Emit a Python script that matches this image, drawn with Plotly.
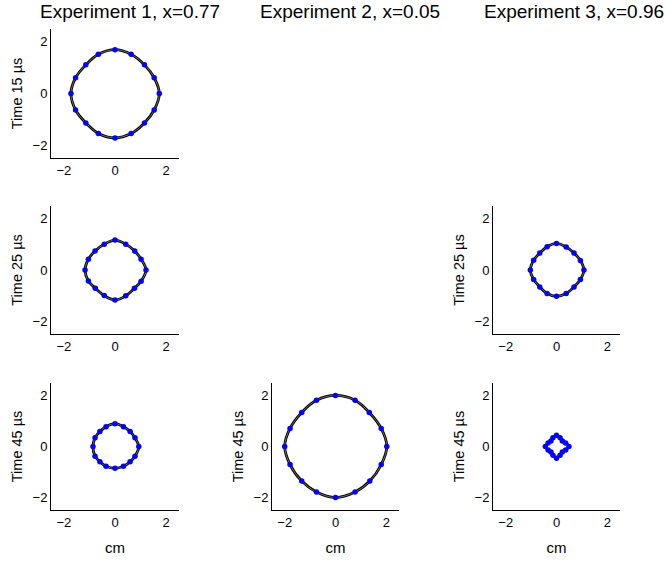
import plotly.graph_objects as go

# ---- data (cm) ----
exp_titles = ["Experiment 1, x=0.77", "Experiment 2, x=0.05", "Experiment 3, x=0.96"]
time_labels = ["Time 15 \u00b5s", "Time 25 \u00b5s", "Time 45 \u00b5s"]
tick_vals = [-2, 0, 2]
tick_text = ["\u22122", "0", "2"]

e1_t15_x = [1.73, 1.53, 1.15, 0.63, 0, -0.65, -1.14, -1.54, -1.72, -1.54, -1.14, -0.65, 0, 0.63, 1.15, 1.53]
e1_t15_y = [0, 0.61, 1.11, 1.52, 1.70, 1.52, 1.11, 0.61, 0, -0.64, -1.14, -1.55, -1.72, -1.55, -1.14, -0.64]

e1_t25_x = [1.21, 1.02, 0.77, 0.42, 0, -0.42, -0.78, -1.04, -1.17, -1.04, -0.77, -0.42, 0, 0.42, 0.76, 1.02]
e1_t25_y = [0, 0.42, 0.74, 1.01, 1.17, 1.01, 0.74, 0.42, 0, -0.43, -0.71, -1.0, -1.17, -1.01, -0.71, -0.44]

e1_t45_x = [0.93, 0.78, 0.59, 0.33, 0, -0.35, -0.59, -0.78, -0.86, -0.78, -0.59, -0.35, 0, 0.33, 0.59, 0.78]
e1_t45_y = [0, 0.34, 0.59, 0.78, 0.90, 0.78, 0.59, 0.34, 0, -0.38, -0.60, -0.78, -0.86, -0.78, -0.60, -0.38]

e2_t45_x = [2.02, 1.80, 1.33, 0.77, 0, -0.75, -1.33, -1.79, -2.0, -1.79, -1.33, -0.75, 0, 0.77, 1.35, 1.80]
e2_t45_y = [0, 0.71, 1.34, 1.82, 2.01, 1.82, 1.34, 0.71, 0, -0.71, -1.36, -1.79, -2.01, -1.79, -1.36, -0.71]

e3_t25_x = [1.08, 0.94, 0.69, 0.38, 0, -0.37, -0.66, -0.90, -1.03, -0.90, -0.66, -0.37, 0, 0.38, 0.69, 0.94]
e3_t25_y = [0, 0.37, 0.66, 0.90, 1.04, 0.91, 0.66, 0.38, 0, -0.37, -0.66, -0.92, -1.03, -0.92, -0.66, -0.37]

e3_t45_x = [0.49, 0.36, 0.23, 0.14, 0, -0.14, -0.22, -0.33, -0.44, -0.33, -0.22, -0.14, 0, 0.14, 0.23, 0.36]
e3_t45_y = [0, 0.14, 0.22, 0.34, 0.44, 0.34, 0.22, 0.14, 0, -0.14, -0.22, -0.34, -0.46, -0.34, -0.22, -0.14]

# (row, col, x, y)
panels = [
    (0, 0, e1_t15_x, e1_t15_y),
    (1, 0, e1_t25_x, e1_t25_y),
    (2, 0, e1_t45_x, e1_t45_y),
    (2, 1, e2_t45_x, e2_t45_y),
    (1, 2, e3_t25_x, e3_t25_y),
    (2, 2, e3_t45_x, e3_t45_y),
]

W, H = 668, 561
col_px = [(51, 179), (272, 399), (493, 620)]
row_px = [(29, 158), (206, 334), (383, 510)]
FONT = "Liberation Sans, Arial, Helvetica, sans-serif"

fig = go.Figure()
layout = dict(
    width=W, height=H, margin=dict(l=0, r=0, t=0, b=0),
    paper_bgcolor="white", plot_bgcolor="white", showlegend=False,
    font=dict(family=FONT, color="black", size=13),
)
annotations = []

for i, (r, c, xs, ys) in enumerate(panels):
    n = i + 1
    xa = "x" if n == 1 else f"x{n}"
    ya = "y" if n == 1 else f"y{n}"
    cx = xs + xs[:1]
    cy = ys + ys[:1]
    fig.add_trace(go.Scatter(x=cx, y=cy, mode="lines", xaxis=xa, yaxis=ya,
                             line=dict(color="black", width=2.8, shape="spline", smoothing=1),
                             hoverinfo="skip"))
    fig.add_trace(go.Scatter(x=cx, y=cy, mode="lines", xaxis=xa, yaxis=ya,
                             line=dict(color="rgba(255,255,255,0.55)", width=0.8, shape="spline", smoothing=1),
                             hoverinfo="skip"))
    fig.add_trace(go.Scatter(x=xs, y=ys, mode="markers", xaxis=xa, yaxis=ya,
                             marker=dict(color="#0000ff", size=5.5, line=dict(width=0))))
    x0, x1 = col_px[c]
    y0, y1 = row_px[r]
    axcommon = dict(range=[-2.5, 2.5], showgrid=False, zeroline=False, showline=True,
                    linecolor="black", linewidth=1, ticks="", tickvals=tick_vals,
                    ticktext=tick_text, tickfont=dict(size=13, family=FONT), fixedrange=True,
                    automargin=False)
    xkey = "xaxis" if n == 1 else f"xaxis{n}"
    ykey = "yaxis" if n == 1 else f"yaxis{n}"
    xdict = dict(axcommon, domain=[x0 / W, x1 / W], anchor=ya)
    if r == 2:
        xdict["title"] = dict(text="cm", font=dict(size=15, family=FONT), standoff=13)
    ydict = dict(axcommon, domain=[1 - y1 / H, 1 - y0 / H], anchor=xa,
                 title=dict(text=time_labels[r], font=dict(size=14.5, family=FONT), standoff=6))
    layout[xkey] = xdict
    layout[ykey] = ydict

title_centers = [130, 350, 574]
for c, t in enumerate(exp_titles):
    annotations.append(dict(text=t, x=title_centers[c] / W, y=1 - 12 / H, xref="paper", yref="paper",
                            xanchor="center", yanchor="middle", showarrow=False,
                            font=dict(size=19, family=FONT, color="black")))

layout["annotations"] = annotations
fig.update_layout(**layout)
# remove the browser's default 8px page margin so the figure sits at the window's corner
fig.write_html("out.html", config={"displayModeBar": False},
               post_script="document.body.style.margin='0';")
